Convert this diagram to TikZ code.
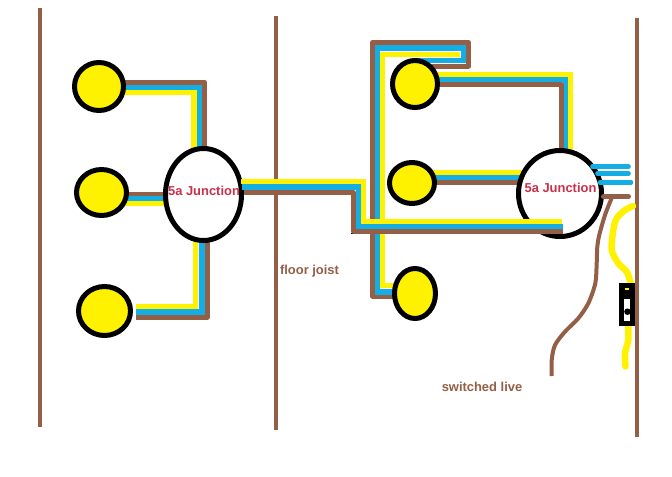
\documentclass[tikz,border=0pt]{standalone}
\usepackage{fontspec}
\setmainfont{Liberation Sans}
\usetikzlibrary{shapes.geometric,backgrounds}
\newdimen\px \px=0.75pt
\definecolor{wbrown}{HTML}{935F47}
\definecolor{wcyan}{HTML}{14AEE4}
\definecolor{wyellow}{HTML}{FFF200}
\definecolor{wred}{HTML}{C9304B}
\tikzset{
  lamp/.style={ellipse,draw=black,fill=wyellow,line width=5\px,inner sep=0pt},
  junction/.style={ellipse,draw=black,fill=white,line width=5\px,inner sep=0pt},
  wall/.style={draw=wbrown,line width=4.5\px},
  br/.style={draw=wbrown,line width=5\px,line join=round},
  cy/.style={draw=wcyan,line width=5.2\px,line join=miter},
  ye/.style={draw=wyellow,line width=5.2\px,line join=miter},
  stub/.style={draw=wcyan,line width=4.6\px,line cap=round},
  jtext/.style={text=wred,font=\fontsize{9.7pt}{11pt}\selectfont\bfseries,inner sep=0pt},
  btext/.style={text=wbrown,font=\fontsize{9.7pt}{11pt}\selectfont\bfseries,inner sep=0pt},
}
\begin{document}
\begin{tikzpicture}[x=\px,y=-\px]
\useasboundingbox (0,0) rectangle (672,476);
\begin{scope}[on background layer]
\fill[white] (0,0) rectangle (672,476);
\end{scope}

% lamps and junctions
\node[lamp,minimum width=49\px,minimum height=48\px] (L1) at (99,86.5) {};
\node[lamp,minimum width=50\px,minimum height=46\px] (L2) at (101.5,192.5) {};
\node[lamp,minimum width=52\px,minimum height=49\px] (L3) at (104.5,311) {};
\node[junction,minimum width=76\px,minimum height=92\px] (J1) at (203.5,194.5) {};
\node[lamp,minimum width=45\px,minimum height=47\px] (R1) at (415,84) {};
\node[lamp,minimum width=45\px,minimum height=41\px] (R2) at (412,183) {};
\node[lamp,minimum width=41\px,minimum height=50\px] (R3) at (415,293.5) {};
\node[junction,minimum width=83\px,minimum height=86\px] (J2) at (560,193.5) {};

\begin{scope}[on background layer]
% joists
\draw[wall] (40,8) -- (40,427);
\draw[wall] (276,16) -- (276,430);
\draw[wall] (637.2,18) -- (637.2,437);
% left lamp 1
\draw[ye] (L1 |- 0,92.5) -- (194,92.5) -- (194,0 |- J1);
\draw[cy] (L1 |- 0,87) -- (199.5,87) -- (199.5,0 |- J1);
\draw[br] (L1 |- 0,82) -- (204.5,82) -- (204.5,0 |- J1);
% left lamp 2
\draw[br] (L2 |- 0,194.5) -- (J1 |- 0,194.5);
\draw[ye] (L2 |- 0,203.5) -- (J1 |- 0,203.5);
\draw[cy] (L2 |- 0,198.5) -- (J1 |- 0,198.5);
% left lamp 3
\draw[ye] (136,306.5) -- (195.5,306.5) -- (195.5,0 |- J1);
\draw[cy] (136,312) -- (202,312) -- (202,0 |- J1);
\draw[br] (136,317) -- (207.5,317) -- (207.5,0 |- J1);
% right lamp 1
\draw[ye] (R1 |- 0,74.5) -- (570.5,74.5) -- (570.5,0 |- J2);
\draw[cy] (R1 |- 0,79.5) -- (565.5,79.5) -- (565.5,0 |- J2);
\draw[br] (R1 |- 0,84.5) -- (561,84.5) -- (561,0 |- J2);
% right lamp 2
\draw[ye] (R2 |- 0,172.5) -- (J2 |- 0,172.5);
\draw[cy] (R2 |- 0,177.5) -- (J2 |- 0,177.5);
\draw[br] (R2 |- 0,182.5) -- (J2 |- 0,182.5);
% long loop
\draw[br] (R3 |- 0,296) -- (372.5,296) -- (372.5,42.5) -- (468.5,42.5) -- (468.5,66) -- (R1 |- 0,66);
\draw[cy] (R3 |- 0,292) -- (377.5,292) -- (377.5,48) -- (463.5,48) -- (463.5,60.5) -- (R1 |- 0,60.5);
\draw[ye] (R3 |- 0,285.5) -- (382.5,285.5) -- (382.5,54.5) -- (460,54.5);
\end{scope}

% main run between the junctions
\draw[black,line width=1\px] (351,233.3) -- (560,233.3);
\draw[ye] ([xshift=-3\px]J1.east |- 0,181.5) -- (363.5,181.5) -- (363.5,221.5) -- (562,221.5);
\draw[cy] ([xshift=-2\px]J1.east |- 0,187) -- (358.5,187) -- (358.5,226.5) -- (562.5,226.5);
\draw[br] (J1.east |- 0,192.5) -- (353.5,192.5) -- (353.5,231) -- (562.5,231);

% stubs leaving the right junction
\draw[stub] (592.5,166.5) -- (628.5,166.5);
\draw[stub] (597.5,173.5) -- (628.5,173.5);
\draw[stub] (600,182.5) -- (631,182.5);
\draw[br,line cap=round] (603.5,196.5) -- (628.5,196.5);

% switched live
\draw[draw=wbrown,line width=4\px,line join=round] plot[smooth,tension=.5] coordinates {(611.7,198) (605,215) (599.3,235) (597.3,246.7) (596.7,263.3) (595.3,283.3) (588.3,303.3) (578.3,318.3) (565,331.7) (555,345) (551.7,360) (551.7,376)};
\draw[draw=wyellow,line width=6.5\px,line cap=round] plot[smooth,tension=.5] coordinates {(633,206) (625,210) (616.7,218.3) (613.3,230) (611.7,250) (618.3,263.3) (626.7,271.7) (630.7,283)};
\draw[draw=wyellow,line width=6.5\px,line cap=round] plot[smooth,tension=.5] coordinates {(628.3,325) (628.3,340) (625,353.3) (625.5,366.5)};

% switch
\fill[black] (619,283.3) rectangle (635,325.7);
\fill[white] (624,299.3) rectangle (630,321);
\fill[black] (627.5,311.7) circle[radius=3.3];
\fill[wyellow] (625,288.3) rectangle (628.5,289.5);

% labels
\node[jtext] (J1t) at (204,190.7) {5a Junction};
\node[jtext] (J2t) at (560.5,188) {5a Junction};
\node[btext] (floor) at (309.5,271) {floor joist};
\node[btext] (live) at (482,387) {switched live};
\end{tikzpicture}
\end{document}
